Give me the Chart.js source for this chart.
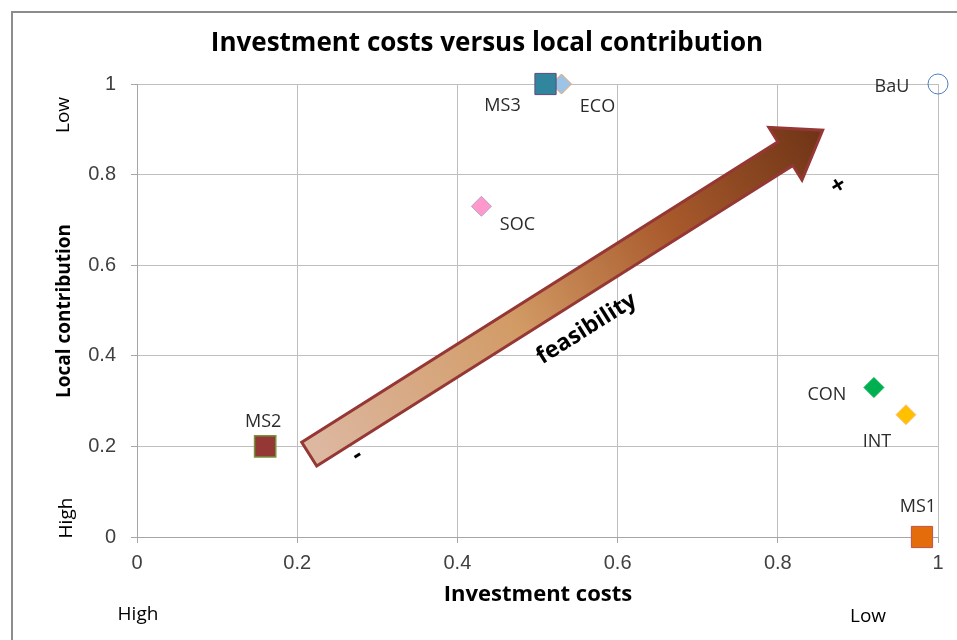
<!DOCTYPE html>
<html><head><meta charset="utf-8">
<script src="https://cdn.jsdelivr.net/npm/chart.js@4/dist/chart.umd.min.js"></script>
<style>html,body{margin:0;padding:0;background:#fff}#wrap{width:957px;height:640px;position:relative}</style>
</head><body><div id="wrap"><canvas id="c" width="957" height="640"></canvas></div>
<script>
// ---- data ----
const pointNames = ['BaU', 'MS3', 'ECO', 'SOC', 'MS2', 'CON', 'INT', 'MS1'];
const investmentCosts = [1.0, 0.51, 0.53, 0.43, 0.16, 0.92, 0.96, 0.98];
const localContribution = [1.0, 1.0, 1.0, 0.73, 0.2, 0.33, 0.27, 0.0];
const tickValues = [0, 0.2, 0.4, 0.6, 0.8, 1];
const arrowFrom = [0.215, 0.183];   // feasibility arrow, data units
const arrowTo = [0.856, 0.898];

// ---- styles ----
const styles = {
  BaU: {shape: 'circle', r: 10, bg: 'rgba(0,0,0,0)', bc: '#4F81BD', bw: 1, dx: -46, dy: 3},
  MS3: {shape: 'rect', r: 15, bg: '#31859C', bc: '#604A7B', bw: 1, dx: -43, dy: 22},
  ECO: {shape: 'rectRot', r: 10, bg: '#9DC3E6', bc: '#F5A15A', bw: 1, dx: 36, dy: 23},
  SOC: {shape: 'rectRot', r: 10, bg: '#FF99CC', bc: '#B3A2C7', bw: 1, dx: 36, dy: 19},
  MS2: {shape: 'rect', r: 15, bg: '#953735', bc: '#77933C', bw: 1.5, dx: -2, dy: -25},
  CON: {shape: 'rectRot', r: 10, bg: '#00B050', bc: '#00B050', bw: 1, dx: -47, dy: 7},
  INT: {shape: 'rectRot', r: 10, bg: '#FFC000', bc: '#FAC090', bw: 1, dx: -29, dy: 27},
  MS1: {shape: 'rect', r: 15, bg: '#E46C0A', bc: '#C0504D', bw: 1, dx: -4, dy: -30}
};
const CAL = '"Liberation Sans", Arial, sans-serif';
const SEG = '"Open Sans", "Noto Sans", sans-serif';

const datasets = pointNames.map((n, i) => ({
  label: n,
  data: [{x: investmentCosts[i], y: localContribution[i]}],
  pointStyle: styles[n].shape,
  pointRadius: styles[n].r,
  pointHoverRadius: styles[n].r,
  backgroundColor: styles[n].bg,
  borderColor: styles[n].bc,
  borderWidth: styles[n].bw,
  clip: false
}));

function rotText(ctx, txt, x, y, ang, font) {
  ctx.save();
  ctx.translate(x, y); ctx.rotate(ang);
  ctx.font = font;
  ctx.fillText(txt, 0, 0);
  ctx.restore();
}

const decor = {
  id: 'decor',
  beforeDatasetsDraw(chart) {
    const ctx = chart.ctx, xs = chart.scales.x, ys = chart.scales.y;
    const tx = xs.getPixelForValue(arrowFrom[0]), ty = ys.getPixelForValue(arrowFrom[1]);
    const px = xs.getPixelForValue(arrowTo[0]), py = ys.getPixelForValue(arrowTo[1]);
    const dx = px - tx, dy = py - ty, L = Math.hypot(dx, dy);
    const ux = dx / L, uy = dy / L, nx = -uy, ny = ux;
    const sw = 14, hw = 31, hl = 44;
    const bx = px - ux * hl, by = py - uy * hl;
    ctx.save();
    const g = ctx.createLinearGradient(tx, ty, px, py);
    g.addColorStop(0, '#DDB8A2');
    g.addColorStop(0.4, '#D29B66');
    g.addColorStop(0.7, '#A95A2C');
    g.addColorStop(1, '#6E3416');
    ctx.beginPath();
    ctx.moveTo(tx + nx * sw, ty + ny * sw);
    ctx.lineTo(bx + nx * sw, by + ny * sw);
    ctx.lineTo(bx + nx * hw, by + ny * hw);
    ctx.lineTo(px, py);
    ctx.lineTo(bx - nx * hw, by - ny * hw);
    ctx.lineTo(bx - nx * sw, by - ny * sw);
    ctx.lineTo(tx - nx * sw, ty - ny * sw);
    ctx.closePath();
    ctx.fillStyle = g;
    ctx.fill();
    ctx.lineWidth = 3;
    ctx.strokeStyle = '#953735';
    ctx.lineJoin = 'miter';
    ctx.stroke();
    const ang = Math.atan2(dy, dx);
    const mx = (tx + px) / 2, my = (ty + py) / 2;
    ctx.fillStyle = '#000';
    ctx.textAlign = 'center';
    ctx.textBaseline = 'middle';
    rotText(ctx, 'feasibility', mx + nx * 42 - ux * 2, my + ny * 42 - uy * 2, ang, 'bold 23px ' + SEG);
    rotText(ctx, '+', px + 16, py + 56, ang, 'bold 25px ' + SEG);
    rotText(ctx, '-', tx + 48, ty + 1, ang, 'bold 25px ' + SEG);
    ctx.restore();
  },
  afterDatasetsDraw(chart) {
    const ctx = chart.ctx, xs = chart.scales.x, ys = chart.scales.y;
    ctx.save();
    ctx.font = '18px ' + SEG;
    ctx.fillStyle = '#2b2b2b';
    ctx.textAlign = 'center';
    ctx.textBaseline = 'middle';
    pointNames.forEach((n, i) => {
      const x = xs.getPixelForValue(investmentCosts[i]);
      const y = ys.getPixelForValue(localContribution[i]);
      ctx.fillText(n, x + styles[n].dx, y + styles[n].dy);
    });
    ctx.restore();
  },
  afterDraw(chart) {
    const ctx = chart.ctx;
    ctx.save();
    ctx.strokeStyle = '#8C8C8C';
    ctx.lineWidth = 2;
    ctx.strokeRect(12, 12, 960, 640);
    ctx.fillStyle = '#000';
    ctx.textAlign = 'center';
    ctx.textBaseline = 'middle';
    ctx.font = 'bold 26px ' + SEG;
    ctx.fillText('Investment costs versus local contribution', 487, 44);
    ctx.font = 'bold 22px ' + SEG;
    ctx.fillText('Investment costs', 538, 595);
    ctx.font = '19px ' + SEG;
    ctx.fillText('High', 138, 615);
    ctx.fillText('Low', 868, 617);
    rotText(ctx, 'Local contribution', 65, 311, -Math.PI / 2, 'bold 19px ' + SEG);
    rotText(ctx, 'Low', 64, 115, -Math.PI / 2, '19px ' + SEG);
    rotText(ctx, 'High', 67, 518, -Math.PI / 2, '19px ' + SEG);
    ctx.restore();
  }
};

new Chart(document.getElementById('c'), {
  type: 'scatter',
  data: {datasets},
  options: {
    responsive: false,
    devicePixelRatio: 1,
    animation: false,
    layout: {padding: {left: 0, top: 84, right: 19, bottom: 0}, autoPadding: false},
    plugins: {legend: {display: false}, title: {display: false}, tooltip: {enabled: false}},
    scales: {
      x: {
        type: 'linear', min: 0, max: 1,
        afterFit(s) { s.height = 103; },
        afterBuildTicks(s) { s.ticks = tickValues.map(v => ({value: v})); },
        grid: {color: '#BFBFBF', tickLength: 6, tickColor: '#A6A6A6'},
        border: {color: '#A6A6A6'},
        ticks: {font: {size: 20, family: CAL}, color: '#404040', padding: 8, maxRotation: 0,
                callback: v => String(v)}
      },
      y: {
        type: 'linear', min: 0, max: 1,
        afterFit(s) { s.width = 137; },
        afterBuildTicks(s) { s.ticks = tickValues.map(v => ({value: v})); },
        grid: {color: '#BFBFBF', tickLength: 6, tickColor: '#A6A6A6'},
        border: {color: '#A6A6A6'},
        ticks: {font: {size: 20, family: CAL}, color: '#404040', padding: 15,
                callback: v => String(v)}
      }
    }
  },
  plugins: [decor]
});
</script></body></html>
